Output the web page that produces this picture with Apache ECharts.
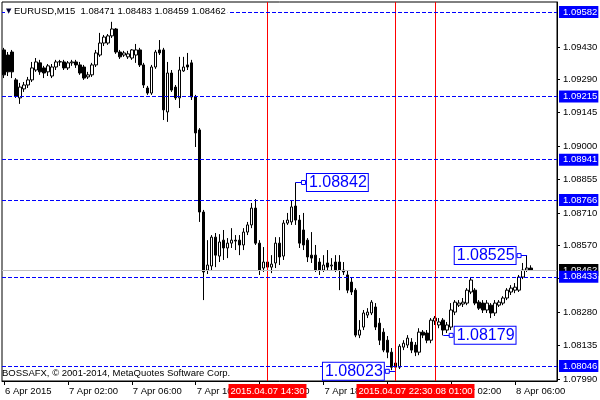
<!DOCTYPE html>
<html><head><meta charset="utf-8">
<script src="https://cdn.jsdelivr.net/npm/echarts@6/dist/echarts.min.js"></script>
<style>html,body{margin:0;padding:0;background:#fff}#c{width:600px;height:400px}</style>
</head><body><div id="c"></div>
<script>
const symbolName = 'EURUSD,M15';
const copyright = 'BOSSAFX, \u00a9 2001-2014, MetaQuotes Software Corp.';
const firstBarTime = '2015.04.06 22:00';
const emptySlotsRight = 6;

const opens = [1.09417,1.09395,1.09408,1.09287,1.09209,1.09248,1.09265,1.09287,1.09330,1.09361,
1.09339,1.09322,1.09304,1.09343,1.09365,1.09365,1.09339,1.09361,1.09365,1.09352,
1.09343,1.09300,1.09309,1.09352,1.09395,1.09447,1.09447,1.09478,1.09508,1.09408,
1.09395,1.09387,1.09382,1.09395,1.09417,1.09352,1.09252,1.09230,1.09343,1.09417,
1.09417,1.09148,1.09317,1.09256,1.09209,1.09326,1.09352,1.09361,1.09213,1.09070,
1.08714,1.08462,1.08480,1.08605,1.08523,1.08592,1.08558,1.08579,1.08592,1.08592,
1.08571,1.08627,1.08658,1.08731,1.08579,1.08471,1.08497,1.08475,1.08493,1.08579,
1.08523,1.08666,1.08671,1.08740,1.08679,1.08636,1.08592,1.08527,1.08527,1.08497,
1.08462,1.08493,1.08480,1.08497,1.08497,1.08462,1.08441,1.08410,1.08375,1.08180,
1.08215,1.08267,1.08276,1.08302,1.08232,1.08193,1.08158,1.08106,1.08041,1.08041,
1.08128,1.08137,1.08150,1.08137,1.08106,1.08193,1.08189,1.08158,1.08241,1.08224,
1.08245,1.08202,1.08215,1.08280,1.08310,1.08315,1.08319,1.08367,1.08375,1.08323,
1.08319,1.08289,1.08310,1.08276,1.08310,1.08319,1.08341,1.08367,1.08375,1.08375,
1.08432,1.08462,1.08471];
const closes = [1.09309,1.09322,1.09322,1.09217,1.09256,1.09265,1.09287,1.09339,1.09365,1.09322,
1.09317,1.09348,1.09343,1.09365,1.09366,1.09339,1.09361,1.09365,1.09352,1.09317,
1.09295,1.09309,1.09352,1.09404,1.09447,1.09473,1.09478,1.09508,1.09408,1.09387,
1.09404,1.09400,1.09417,1.09417,1.09352,1.09265,1.09230,1.09343,1.09408,1.09404,
1.09157,1.09317,1.09243,1.09209,1.09330,1.09343,1.09343,1.09213,1.09057,1.08714,
1.08454,1.08484,1.08605,1.08527,1.08584,1.08558,1.08579,1.08592,1.08588,1.08571,
1.08627,1.08658,1.08731,1.08579,1.08462,1.08497,1.08475,1.08488,1.08579,1.08519,
1.08666,1.08679,1.08736,1.08679,1.08579,1.08571,1.08519,1.08514,1.08462,1.08462,
1.08484,1.08475,1.08484,1.08462,1.08462,1.08454,1.08375,1.08367,1.08180,1.08202,
1.08276,1.08280,1.08323,1.08215,1.08158,1.08115,1.08106,1.08041,1.08059,1.08132,
1.08145,1.08167,1.08115,1.08106,1.08193,1.08180,1.08158,1.08245,1.08254,1.08237,
1.08202,1.08224,1.08289,1.08323,1.08319,1.08323,1.08375,1.08419,1.08319,1.08297,
1.08289,1.08319,1.08276,1.08319,1.08323,1.08341,1.08375,1.08384,1.08388,1.08432,
1.08462,1.08471,1.08462];
const lows = [1.09295,1.09304,1.09295,1.09209,1.09183,1.09235,1.09252,1.09278,1.09322,1.09309,
1.09295,1.09304,1.09295,1.09330,1.09348,1.09330,1.09330,1.09348,1.09339,1.09309,
1.09287,1.09291,1.09300,1.09343,1.09387,1.09434,1.09439,1.09469,1.09400,1.09378,
1.09387,1.09378,1.09374,1.09361,1.09343,1.09252,1.09222,1.09222,1.09335,1.09395,
1.09113,1.09105,1.09235,1.09200,1.09165,1.09322,1.09330,1.09200,1.08996,1.08671,
1.08332,1.08445,1.08462,1.08475,1.08497,1.08506,1.08514,1.08558,1.08549,1.08527,
1.08549,1.08614,1.08644,1.08571,1.08441,1.08454,1.08454,1.08449,1.08471,1.08484,
1.08506,1.08658,1.08658,1.08658,1.08558,1.08549,1.08497,1.08493,1.08454,1.08441,
1.08454,1.08462,1.08462,1.08454,1.08375,1.08441,1.08362,1.08354,1.08171,1.08167,
1.08202,1.08254,1.08267,1.08202,1.08137,1.08106,1.08080,1.08028,1.08023,1.08033,
1.08115,1.08124,1.08102,1.08089,1.08093,1.08167,1.08145,1.08145,1.08224,1.08210,
1.08179,1.08189,1.08202,1.08267,1.08302,1.08302,1.08310,1.08358,1.08310,1.08289,
1.08276,1.08276,1.08254,1.08263,1.08302,1.08310,1.08332,1.08354,1.08362,1.08367,
1.08423,1.08454,1.08459];
const highs = [1.09426,1.09408,1.09417,1.09295,1.09274,1.09278,1.09300,1.09365,1.09382,1.09374,
1.09348,1.09356,1.09356,1.09374,1.09374,1.09374,1.09369,1.09374,1.09374,1.09365,
1.09352,1.09322,1.09361,1.09417,1.09491,1.09482,1.09486,1.09539,1.09512,1.09417,
1.09413,1.09413,1.09421,1.09443,1.09426,1.09361,1.09261,1.09352,1.09417,1.09460,
1.09426,1.09365,1.09330,1.09265,1.09387,1.09387,1.09404,1.09374,1.09222,1.09078,
1.08723,1.08592,1.08614,1.08623,1.08618,1.08636,1.08601,1.08644,1.08614,1.08614,
1.08644,1.08671,1.08753,1.08770,1.08592,1.08562,1.08549,1.08527,1.08605,1.08605,
1.08679,1.08710,1.08766,1.08842,1.08701,1.08710,1.08601,1.08627,1.08571,1.08514,
1.08527,1.08549,1.08514,1.08527,1.08527,1.08497,1.08462,1.08428,1.08384,1.08245,
1.08289,1.08297,1.08332,1.08319,1.08254,1.08210,1.08176,1.08124,1.08093,1.08141,
1.08158,1.08180,1.08167,1.08150,1.08210,1.08202,1.08202,1.08254,1.08263,1.08254,
1.08254,1.08237,1.08319,1.08332,1.08332,1.08341,1.08384,1.08432,1.08384,1.08332,
1.08332,1.08332,1.08319,1.08332,1.08332,1.08349,1.08384,1.08397,1.08406,1.08441,
1.08493,1.08525,1.08483];

const levelLines = [1.09582, 1.09215, 1.08941, 1.08766, 1.08433, 1.08046];
const priceTicks = [1.09430, 1.09290, 1.09145, 1.09000, 1.08855, 1.08710, 1.08570, 1.08425, 1.08280, 1.08135, 1.07990];
const priceTickLabels = [1.09430, 1.09290, 1.09145, 1.09000, 1.08855, 1.08710, 1.08570, 1.08280, 1.08135, 1.07990];
const priceMin = 1.07981, priceMax = 1.09625;
const verticalLineTimes = ['2015.04.07 14:30', '2015.04.08 01:00', '2015.04.07 22:30'];
const priceLabelTimes = ['2015.04.07 16:15', '2015.04.07 22:30', '2015.04.08 01:30', '2015.04.08 06:45'];
const priceLabelValues = [1.08842, 1.08023, 1.08179, 1.08525];
const priceLabelSides = ['right', 'left', 'right', 'left'];

const MON = ['Jan','Feb','Mar','Apr','May','Jun','Jul','Aug','Sep','Oct','Nov','Dec'];
const p2 = v => (v < 10 ? '0' : '') + v;
const n = opens.length;
const fp = firstBarTime.split(/[. :]/).map(Number);
const t0 = Date.UTC(fp[0], fp[1]-1, fp[2], fp[3], fp[4]);
const slotDates = [], categories = [];
for (let i = 0; i < n + emptySlotsRight; i++) {
  const d = new Date(t0 + i * 15 * 60000);
  slotDates.push(d);
  categories.push(d.getUTCFullYear() + '.' + p2(d.getUTCMonth()+1) + '.' + p2(d.getUTCDate()) + ' ' + p2(d.getUTCHours()) + ':' + p2(d.getUTCMinutes()));
}
const candleData = opens.map((o, i) => [o, closes[i], lows[i], highs[i]]);
const showTick = (idx) => idx % 16 === 0;
const FONT = 'Liberation Sans';

const axisBox = (bg) => ({show: true, position: 'end', distance: 2, backgroundColor: bg, color: '#ffffff',
  fontSize: 9.5, fontFamily: FONT, padding: [1, 1, 1, 4], lineHeight: 10,
  formatter: p => Number(p.value).toFixed(5)});

const connectorData = [], squareData = [];
priceLabelTimes.forEach((t, k) => {
  const bi = categories.indexOf(t);
  const si = bi + (priceLabelSides[k] === 'right' ? 2 : -2);
  connectorData.push([{coord: [bi, priceLabelValues[k]]}, {coord: [si, priceLabelValues[k]]}]);
  squareData.push({
    coord: [si, priceLabelValues[k]], value: priceLabelValues[k],
    label: {position: priceLabelSides[k]}
  });
});

const holder = (z, extra) => Object.assign({type: 'line', data: [], showSymbol: false, silent: true, z: z,
  emphasis: {disabled: true}}, extra);

const verticalSeries = {
  type: 'custom', z: 4, silent: true, clip: false,
  data: verticalLineTimes.map(t => [categories.indexOf(t), priceMin]),
  encode: {x: 0, y: 1},
  renderItem: (params, api) => {
    const idx = api.value(0);
    const top = api.coord([idx, priceMax]);
    const bot = api.coord([idx, priceMin]);
    const x = Math.floor(top[0]) + 0.5;
    return {type: 'group', children: [
      {type: 'line', shape: {x1: x, y1: top[1], x2: x, y2: bot[1]},
       style: {stroke: '#ff0000', lineWidth: 1, fill: null}},
      {type: 'text', x: x, y: bot[1] + 3,
       style: {text: verticalLineTimes[params.dataIndex], fill: '#ffffff', backgroundColor: '#ff0000',
         padding: [2, 2, 1, 2], align: 'center', verticalAlign: 'top', fontSize: 9.5, fontFamily: FONT, lineHeight: 11}}
    ]};
  }
};

const chart = echarts.init(document.getElementById('c'), null, {renderer: 'canvas'});
chart.setOption({
  animation: false,
  backgroundColor: '#ffffff',
  tooltip: {show: false},
  title: [{
    text: '{t|\u25BC} ' + symbolName + '  ' + [opens[n-1], highs[n-1], lows[n-1], closes[n-1]].map(v => v.toFixed(5)).join(' '),
    left: 5, top: 6, padding: [0, 2, 0, 1], backgroundColor: '#ffffff', z: 10,
    textStyle: {fontSize: 9.5, fontWeight: 'normal', color: '#000', fontFamily: FONT, lineHeight: 11,
      rich: {t: {fontSize: 7, fontFamily: 'DejaVu Sans', color: '#000033', lineHeight: 11}}}
  }, {
    text: copyright, left: 2, top: 368, padding: 0,
    textStyle: {fontSize: 9.5, fontWeight: 'normal', color: '#000', fontFamily: FONT, lineHeight: 11}
  }],
  grid: {left: 2, right: 43, top: 2, bottom: 19, show: true, borderColor: '#000', borderWidth: 1, backgroundColor: 'transparent', outerBoundsMode: 'none'},
  xAxis: {
    type: 'category', data: categories, boundaryGap: true,
    axisLine: {show: true, lineStyle: {color: '#000', width: 1}},
    axisTick: {show: true, alignWithLabel: true, interval: showTick, length: 4, lineStyle: {color: '#000'}},
    axisLabel: {show: true, interval: showTick, hideOverlap: false, showMinLabel: true, align: 'left', margin: 5,
      fontSize: 9.5, fontFamily: FONT, color: '#000', padding: [0, 0, 0, 1],
      formatter: (val, idx) => {
        const d = slotDates[idx];
        if (!d) return '';
        return idx === 0 ? d.getUTCDate() + ' ' + MON[d.getUTCMonth()] + ' ' + d.getUTCFullYear()
          : d.getUTCDate() + ' ' + MON[d.getUTCMonth()] + ' ' + p2(d.getUTCHours()) + ':' + p2(d.getUTCMinutes());
      }},
    splitLine: {show: false}
  },
  yAxis: {
    type: 'value', position: 'right', min: priceMin, max: priceMax, scale: true,
    axisLine: {show: true, lineStyle: {color: '#000', width: 1}},
    axisTick: {show: true, length: 3, customValues: priceTicks, lineStyle: {color: '#000'}},
    axisLabel: {show: true, customValues: priceTickLabels, margin: 6, fontSize: 9.5, fontFamily: FONT, color: '#000',
      formatter: v => v.toFixed(5)},
    splitLine: {show: false}
  },
  series: [
    holder(1, {
      markLine: {symbol: ['none', 'none'], silent: true, animation: false, precision: 5,
        lineStyle: {color: '#c0c0c0', type: 'solid', width: 1, opacity: 1},
        label: axisBox('#000000'),
        data: [{yAxis: closes[n-1]}]}}),
    {
      type: 'candlestick', data: candleData, barWidth: 3, z: 2,
      itemStyle: {color: '#ffffff', color0: '#000000', borderColor: '#000000', borderColor0: '#000000', borderColorDoji: '#000000', borderWidth: 1},
      emphasis: {disabled: true}, silent: true
    },
    holder(3, {
      markLine: {symbol: ['none', 'none'], silent: true, animation: false, precision: 5,
        lineStyle: {color: '#0000ff', type: [4, 2], width: 1, opacity: 1},
        label: axisBox('#0000ff'),
        data: levelLines.map(v => ({yAxis: v}))}}),
    verticalSeries,
    holder(5, {
      markLine: {symbol: ['none', 'none'], silent: true, animation: false, precision: 5,
        lineStyle: {color: '#0000ff', type: 'solid', width: 1, opacity: 1},
        label: {show: false},
        data: connectorData},
      markPoint: {silent: true, animation: false, precision: 5, symbol: 'rect', symbolSize: 4,
        itemStyle: {color: '#ffffff', borderColor: '#0000ff', borderWidth: 1},
        label: {show: true, distance: 1, formatter: p => Number(p.value).toFixed(5),
          fontSize: 16, fontFamily: FONT, color: '#0000ff', backgroundColor: '#ffffff', borderColor: '#0000ff',
          borderWidth: 1, padding: [1, 1, 0, 2], lineHeight: 16},
        data: squareData}})
  ]
});
</script></body></html>
